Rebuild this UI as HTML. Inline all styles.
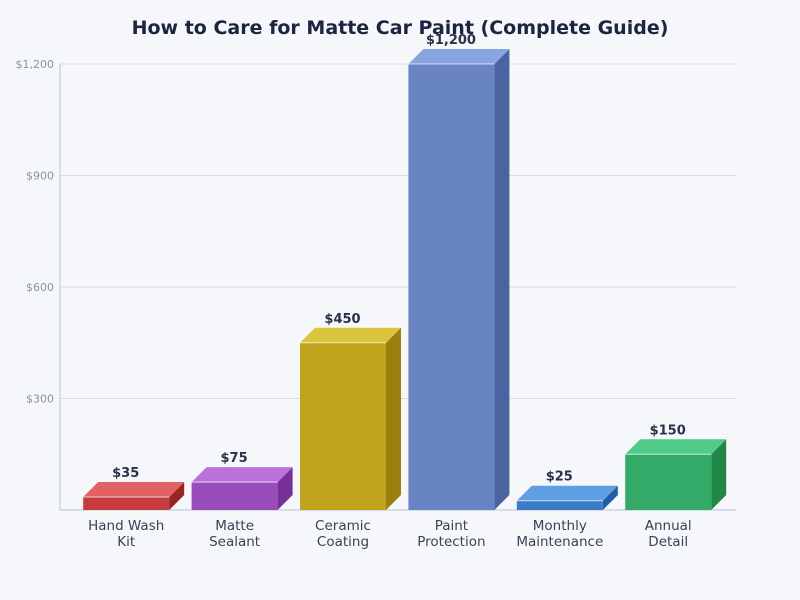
<!DOCTYPE html>
<html><head><meta charset="utf-8"><style>
body{margin:0;background:#f5f7fb;}
svg{display:block;font-family:"DejaVu Sans","Liberation Sans",sans-serif;}
</style></head><body>
<svg id="chart" width="800" height="600">
<rect width="800" height="600" fill="#f5f7fb"/>
<text x="400" y="34" text-anchor="middle" font-size="19" font-weight="bold" fill="#1a2540">How to Care for Matte Car Paint (Complete Guide)</text>
<g id="grid"></g><g id="bars"></g>
</svg>
<script>
const categories=[["Hand Wash","Kit"],["Matte","Sealant"],["Ceramic","Coating"],["Paint","Protection"],["Monthly","Maintenance"],["Annual","Detail"]];
const values=[35,75,450,1200,25,150];
const valueLabels=["$35","$75","$450","$1,200","$25","$150"];
const ticks=[0,300,600,900,1200];
const tickLabels=["","$300","$600","$900","$1,200"];
const colors=[["#c63c3c","#e06262","#9a2424"],["#9a4cbc","#ba72da","#76309a"],["#c2a41c","#dcc43c","#9c800e"],["#6884c2","#8aa4e2","#4a64a0"],["#3a7cc8","#60a0e2","#1e5ea6"],["#34aa68","#50cc88","#208846"]];
const NS="http://www.w3.org/2000/svg";
const x0=60,x1=736,yBase=510,yTop=64,maxV=1200,bandStart=72,band=108.4,bw=86,d=15;
const y=v=>yBase-(v/maxV)*(yBase-yTop);
const xc=i=>bandStart+band*i+band/2;
function mk(tag,attrs,parent,txt){const e=document.createElementNS(NS,tag);for(const k in attrs)e.setAttribute(k,attrs[k]);if(txt!==undefined)e.textContent=txt;parent.appendChild(e);return e;}
const g=document.getElementById('grid'),b=document.getElementById('bars');
ticks.forEach((t,i)=>{
  if(t>0){const l=mk('line',{x1:x0,x2:x1,y1:y(t),y2:y(t),stroke:'#d5dae3','stroke-width':1},g);
  
  }
  const tx=mk('text',{x:x0-6,y:y(t)+4,'text-anchor':'end','font-size':11,fill:'#8a93a5'},g,tickLabels[i]);
  
  
});
const ax=mk('path',{d:`M${x0} ${yTop}V${yBase}H${x1}`,fill:'none',stroke:'#c5ccd8','stroke-width':1.2},g);


values.forEach((v,i)=>{
  const l=xc(i)-bw/2,r=l+bw,t=y(v),c=colors[i];
  const grp=mk('g',{},b);
  
  
  mk('polygon',{points:`${r},${t} ${r+d},${t-d} ${r+d},${yBase-d} ${r},${yBase}`,fill:c[2]},grp);
  mk('polygon',{points:`${l},${t} ${l+d},${t-d} ${r+d},${t-d} ${r},${t}`,fill:c[1]},grp);
  mk('rect',{x:l,y:t,width:bw,height:yBase-t,fill:c[0]},grp);
  mk('line',{x1:l,x2:r,y1:t,y2:t,stroke:'#ffffff','stroke-opacity':0.7,'stroke-width':1},grp);
  const vl=mk('text',{x:xc(i)+d/2-8,y:t-d-5,'text-anchor':'middle','font-size':13,'font-weight':'bold',fill:'#2a3248'},b,valueLabels[i]);
  
  
  categories[i].forEach((s,j)=>{
    const cl=mk('text',{x:xc(i),y:530+j*16,'text-anchor':'middle','font-size':13.5,fill:'#3a4256'},b,s);
    
    
  });
});
</script>
</body></html>
